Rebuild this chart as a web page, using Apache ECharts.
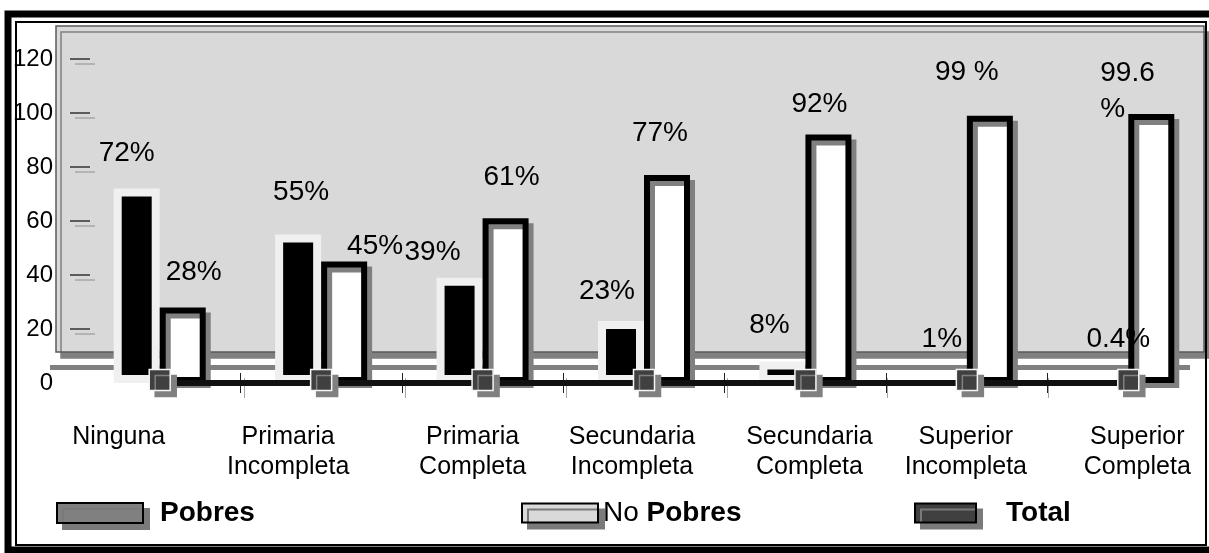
<!DOCTYPE html>
<html lang="es">
<head>
<meta charset="UTF-8">
<title>Pobres y No Pobres por nivel educativo</title>
<style>
    html, body { margin: 0; padding: 0; background: #fff; }
    #main { width: 1209px; height: 553px; }
</style>
</head>
<body>
<div id="main"></div>

<script src="https://cdn.jsdelivr.net/npm/echarts@6/dist/echarts.min.js"></script>
<script type="text/javascript">
    // datos
    var niveles = ['Ninguna', 'Primaria\nIncompleta', 'Primaria\nCompleta', 'Secundaria\nIncompleta',
                   'Secundaria\nCompleta', 'Superior\nIncompleta', 'Superior\nCompleta'];
    var pobres   = [72, 55, 39, 23, 8, 1, 0.4];
    var noPobres = [28, 45, 61, 77, 92, 99, 99.6];
    var total    = [0, 0, 0, 0, 0, 0, 0];
    var etiquetasPobres   = ['72%', '55%', '39%', '23%', '8%', '1%', '0.4%'];
    var etiquetasNoPobres = ['28%', '45%', '61%', '77%', '92%', '99 %', '99.6\n%'];
    var marcasY = [20, 40, 60, 80, 100, 120];

    // ajustes de posicion de los textos (px)
    var corrNivel = [-41, -33, -10, -12, 4, -1, 9];
    var corrPobres   = [[-10, -10], [3, -17], [-27, 0], [-14, -5], [-13, -11], [-2, -16], [13, -18]];
    var corrNoPobres = [[11, -10], [31, 10], [6, -16], [-7, -17], [-9, -5], [-23, -18], [-51, 23]];

    var fuente = '"Liberation Sans", Arial, sans-serif';

    var myChart = echarts.init(document.getElementById('main'));

    var datosNivel = niveles.map(function (n, i) {
        var d = corrNivel[i];
        return {value: n, textStyle: {padding: d < 0 ? [0, -2 * d, 0, 0] : [0, 0, 0, 2 * d]}};
    });

    var datosPobres = pobres.map(function (v, i) {
        var item = {value: v, label: {offset: corrPobres[i]}};
        if (v < 5) item.itemStyle = {borderWidth: 0};   // sin halo en barras minimas
        return item;
    });

    var datosNoPobres = noPobres.map(function (v, i) {
        var item = {value: v, label: {offset: corrNoPobres[i]}};
        if (etiquetasNoPobres[i].indexOf('\n') >= 0) {
            item.label.align = 'left';
            item.label.lineHeight = 36;
        }
        return item;
    });

    var iconoLeyenda = function (color) {
        return {color: color, borderColor: '#000', borderWidth: 2,
                shadowColor: '#7a7a7a', shadowOffsetX: 6, shadowOffsetY: 6, shadowBlur: 0};
    };

    var sinPrimera = function (i) { return i > 0; };

    option = {
        animation: false,
        backgroundColor: '#fff',
        graphic: [
            {   // pared del fondo
                type: 'rect', z: -10,
                shape: {x: 56, y: 26, width: 1148, height: 326},
                style: {fill: '#d9d9d9', stroke: '#5a5a5a', lineWidth: 1.5,
                        shadowColor: '#808080', shadowOffsetX: 5, shadowOffsetY: 6, shadowBlur: 0}
            },
            {   // borde del piso
                type: 'rect', z: -10,
                shape: {x: 50, y: 365, width: 1140, height: 5},
                style: {fill: '#808080'}
            },
            {
                type: 'rect', z: 100,
                shape: {x: 8, y: 14, width: 1210, height: 536},
                style: {fill: 'transparent', stroke: '#000', lineWidth: 7}
            },
            {
                type: 'rect', z: 100,
                shape: {x: 16, y: 22, width: 1190, height: 523},
                style: {fill: 'transparent', stroke: '#000', lineWidth: 2}
            }
        ],
        legend: [
            {
                data: ['Pobres'], left: 51, top: 493, icon: 'rect',
                itemWidth: 86, itemHeight: 20,
                itemStyle: iconoLeyenda('#808080'),
                textStyle: {fontFamily: fuente, fontSize: 28, lineHeight: 30, fontWeight: 'bold',
                            color: '#000', padding: [0, 0, 0, 12]}
            },
            {
                data: ['No Pobres'], left: 516, top: 493, icon: 'rect',
                itemWidth: 76, itemHeight: 19,
                itemStyle: iconoLeyenda('#d9d9d9'),
                formatter: function () { return '{n|No} {b|Pobres}'; },
                textStyle: {
                    fontFamily: fuente, fontSize: 28, lineHeight: 30, color: '#000',
                    rich: {
                        n: {fontFamily: fuente, fontSize: 28, color: '#000'},
                        b: {fontFamily: fuente, fontSize: 28, fontWeight: 'bold', color: '#000'}
                    }
                }
            },
            {
                data: ['Total'], left: 909, top: 493, icon: 'rect',
                itemWidth: 61, itemHeight: 19,
                itemStyle: iconoLeyenda('#404040'),
                textStyle: {fontFamily: fuente, fontSize: 28, lineHeight: 30, fontWeight: 'bold',
                            color: '#000', padding: [0, 0, 0, 25]}
            }
        ],
        grid: [
            {left: 79, top: 59, width: 1134, height: 324},
            {left: 84, top: 64, width: 1134, height: 324}   // sombra de las marcas
        ],
        xAxis: [
            {
                gridIndex: 0, type: 'category', data: datosNivel, offset: -10,
                axisLine: {show: false},
                axisTick: {show: true, length: 20, interval: sinPrimera,
                           lineStyle: {color: '#222', width: 1}},
                axisLabel: {interval: 0, margin: 49, fontFamily: fuente, fontSize: 25,
                            lineHeight: 30, color: '#000'}
            },
            {
                gridIndex: 1, type: 'category', data: niveles, offset: -10,
                axisLine: {show: false},
                axisTick: {show: true, length: 20, interval: sinPrimera,
                           lineStyle: {color: '#a6a6a6', width: 1}},
                axisLabel: {show: false}
            }
        ],
        yAxis: [
            {
                gridIndex: 0, type: 'value', min: 0, max: 120, interval: 20, offset: 9,
                axisLine: {show: false},
                axisTick: {show: true, inside: true, length: 20, customValues: marcasY,
                           lineStyle: {color: '#333', width: 1.5}},
                axisLabel: {margin: 17, fontFamily: fuente, fontSize: 24, color: '#000',
                            padding: [0, 0, 8, 0]},
                splitLine: {show: false}
            },
            {
                gridIndex: 1, type: 'value', min: 0, max: 120, interval: 20, offset: 9,
                axisLine: {show: false},
                axisTick: {show: true, inside: true, length: 20, customValues: marcasY,
                           lineStyle: {color: '#a6a6a6', width: 1.5}},
                axisLabel: {show: false},
                splitLine: {show: false}
            }
        ],
        series: [
            {
                name: 'Pobres', type: 'bar', barWidth: 46, barGap: '0%',
                data: datosPobres,
                itemStyle: {color: '#000', borderColor: '#f0f0f0', borderWidth: 8},
                label: {show: true, position: 'top', distance: 10, fontFamily: fuente,
                        fontSize: 28, lineHeight: 30, color: '#000',
                        formatter: function (p) { return etiquetasPobres[p.dataIndex]; }}
            },
            {
                name: 'No Pobres', type: 'bar', barWidth: 46, barGap: '0%',
                data: datosNoPobres,
                itemStyle: {color: '#fff', borderColor: '#000', borderWidth: 6,
                            shadowColor: '#808080', shadowOffsetX: 5, shadowOffsetY: 5, shadowBlur: 0},
                label: {show: true, position: 'top', distance: 10, fontFamily: fuente,
                        fontSize: 28, lineHeight: 30, color: '#000',
                        formatter: function (p) { return etiquetasNoPobres[p.dataIndex]; }}
            },
            {
                name: 'Total', type: 'line', data: total,
                symbol: 'rect', symbolSize: 21, symbolOffset: [0, -3],
                itemStyle: {color: '#404040', borderColor: '#f5f5f5', borderWidth: 1.5,
                            shadowColor: '#808080', shadowOffsetX: 6, shadowOffsetY: 6, shadowBlur: 0},
                lineStyle: {color: '#111', width: 6, shadowColor: '#808080',
                            shadowOffsetX: 0, shadowOffsetY: 7, shadowBlur: 0},
                label: {show: false}
            }
        ]
    };
    myChart.setOption(option);
</script>

</body>
</html>
